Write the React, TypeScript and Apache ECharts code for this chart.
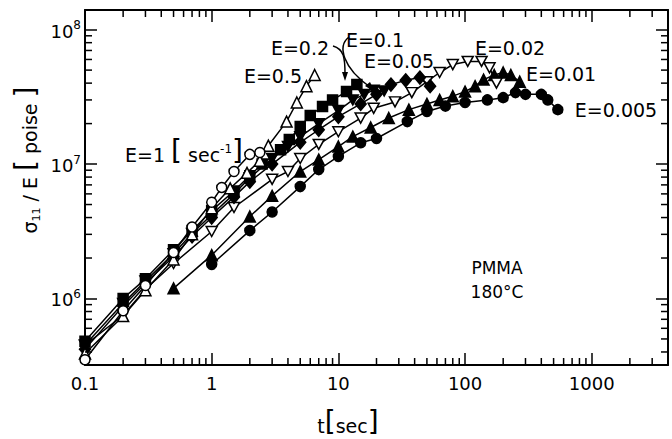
import React, { useEffect, useRef } from "react";
import * as echarts from "echarts";

// ---- axis ranges ----
const X_MIN = 0.1;
const X_MAX = 4000;
const Y_MIN = 3.2e5;
const Y_MAX = 1.4e8;

// ---- data (t [sec], sigma11/E [poise]) ----
const tE1 = [0.1, 0.2, 0.3, 0.5, 0.7, 1, 1.2, 1.5, 2, 2.4];
const vE1 = [3.5e5, 8.1e5, 1.25e6, 2.2e6, 3.4e6, 5.2e6, 6.7e6, 8.8e6, 1.18e7, 1.22e7];

const tE05 = [0.1, 0.2, 0.3, 0.5, 0.7, 1, 1.4, 1.9, 2.4, 2.8, 3.9, 4.7, 5.6, 6.5];
const vE05 = [3.9e5, 7.4e5, 1.15e6, 1.95e6, 3.0e6, 4.7e6, 6.6e6, 8.6e6, 1.06e7, 1.37e7, 2.07e7, 2.87e7, 3.8e7, 4.6e7];

const tE02 = [0.1, 0.2, 0.3, 0.5, 0.7, 1, 1.5, 2, 2.5, 3.5, 4.1, 5, 6, 7.5, 9, 11.6, 14];
const vE02 = [4.8e5, 1.0e6, 1.4e6, 2.3e6, 3.2e6, 4.5e6, 6.3e6, 8.2e6, 1.0e7, 1.28e7, 1.52e7, 1.9e7, 2.3e7, 2.68e7, 3.0e7, 3.46e7, 3.9e7];

const tE01 = [0.1, 0.2, 0.3, 0.5, 0.7, 1, 1.5, 2, 3, 4, 5, 7, 10, 13, 16, 19, 23];
const vE01 = [4.5e5, 9.2e5, 1.35e6, 2.15e6, 3.05e6, 4.2e6, 6.0e6, 7.9e6, 1.1e7, 1.35e7, 1.6e7, 2.0e7, 2.5e7, 3.0e7, 3.3e7, 3.55e7, 3.5e7];

const tE005 = [0.1, 0.2, 0.3, 0.5, 0.7, 1, 1.5, 2, 3, 5, 7, 10, 15, 20, 26, 34, 44, 53];
const vE005 = [4.2e5, 8.8e5, 1.3e6, 2.05e6, 2.9e6, 4.0e6, 5.7e6, 7.4e6, 1.0e7, 1.45e7, 1.8e7, 2.25e7, 2.8e7, 3.3e7, 3.9e7, 4.2e7, 4.4e7, 3.8e7];

const tE002 = [0.1, 0.2, 0.3, 0.5, 1, 1.5, 3, 4, 5, 7, 10, 15, 19, 28, 38, 50, 63, 80, 105, 135, 156, 177];
const vE002 = [4.5e5, 7.5e5, 1.17e6, 1.82e6, 3.15e6, 4.75e6, 7.7e6, 8.8e6, 1.1e7, 1.4e7, 1.74e7, 2.2e7, 2.6e7, 2.9e7, 3.4e7, 4.1e7, 4.8e7, 5.5e7, 5.8e7, 5.8e7, 5.2e7, 4.0e7];

const tE001 = [0.5, 1, 2, 3, 5, 7, 10, 13, 18, 25, 36, 50, 63, 80, 100, 120, 140, 170, 200, 230, 270];
const vE001 = [1.19e6, 2.1e6, 4.07e6, 5.8e6, 8.8e6, 1.08e7, 1.35e7, 1.6e7, 1.87e7, 2.2e7, 2.54e7, 2.8e7, 3.0e7, 3.2e7, 3.46e7, 3.8e7, 4.25e7, 4.6e7, 4.8e7, 4.6e7, 4.1e7];

const tE0005 = [1, 2, 3, 5, 7, 10, 15, 20, 35, 50, 70, 100, 150, 200, 250, 300, 400, 450, 540];
const vE0005 = [1.79e6, 3.2e6, 4.4e6, 6.8e6, 9.1e6, 1.14e7, 1.44e7, 1.55e7, 2.07e7, 2.46e7, 2.7e7, 2.87e7, 3.0e7, 3.12e7, 3.4e7, 3.3e7, 3.3e7, 3.0e7, 2.54e7];

// ---- tick labels ----
const xTickLabels = ["0.1", "1", "10", "100", "1000"];
const yTickExponents = [6, 7, 8];

function minorTicks(lo: number, hi: number): number[] {
  const out: number[] = [];
  for (let e = Math.floor(Math.log10(lo)); e <= Math.ceil(Math.log10(hi)); e++) {
    for (let k = 2; k <= 9; k++) {
      const v = Number((k * Math.pow(10, e)).toPrecision(3));
      if (v > lo && v < hi) out.push(v);
    }
  }
  return out;
}

function isPow10(v: number): boolean {
  const l = Math.log10(v);
  return Math.abs(l - Math.round(l)) < 1e-6;
}

const FONT = "DejaVu Sans";
const INV_TRI = "path://M0,0L10,0L5,9Z";

export default function App() {
  const ref = useRef<HTMLDivElement>(null);

  useEffect(() => {
    if (!ref.current) return;
    const chart = echarts.init(ref.current, null, { renderer: "svg" });

    const mk = (name: string, t: number[], v: number[], symbol: string, filled: boolean, size: any, z: number) => ({
      type: "line",
      name,
      data: t.map((x, i) => [x, v[i]]),
      symbol,
      symbolSize: size,
      showSymbol: true,
      z,
      lineStyle: { color: "#000", width: 1.5 },
      itemStyle: { color: filled ? "#000" : "#fff", borderColor: "#000", borderWidth: 1.5 },
      emphasis: { disabled: true },
    });

    const tickData: any[] = [];
    minorTicks(X_MIN, X_MAX).forEach((v) => tickData.push([v, Y_MIN, 0]));
    minorTicks(Y_MIN, Y_MAX).forEach((v) => tickData.push([X_MIN, v, 1]));

    const tickSeries = {
      type: "custom",
      silent: true,
      clip: false,
      z: 20,
      data: tickData,
      renderItem: (params: any, api: any) => {
        const v = api.value(0);
        const w = api.value(1);
        const kind = api.value(2);
        const L = 7;
        const st = { stroke: "#000", lineWidth: 1.5 };
        if (kind === 0) {
          const b = api.coord([v, Y_MIN]);
          const t = api.coord([v, Y_MAX]);
          return {
            type: "group",
            children: [
              { type: "line", shape: { x1: b[0], y1: b[1], x2: b[0], y2: b[1] - L }, style: st },
              { type: "line", shape: { x1: t[0], y1: t[1], x2: t[0], y2: t[1] + L }, style: st },
            ],
          };
        }
        const l = api.coord([X_MIN, w]);
        const r = api.coord([X_MAX, w]);
        return {
          type: "group",
          children: [
            { type: "line", shape: { x1: l[0], y1: l[1], x2: l[0] + L, y2: l[1] }, style: st },
            { type: "line", shape: { x1: r[0], y1: r[1], x2: r[0] - L, y2: r[1] }, style: st },
          ],
        };
      },
    };

    const axisLineStyle = { lineStyle: { color: "#000", width: 2 } };
    const majorTick = { show: true, inside: true, length: 12, lineStyle: { color: "#000", width: 1.5 } };

    const rs = (size: number, extra: any = {}) => ({
      fontSize: size,
      fontFamily: FONT,
      color: "#000",
      fill: "#000",
      verticalAlign: "bottom",
      ...extra,
    });

    const txt = (text: string, x: number, y: number, size = 19, extra: any = {}) => ({
      type: "text",
      x,
      y,
      z: 100,
      style: {
        text,
        fill: "#000",
        fontSize: size,
        fontFamily: FONT,
        textAlign: "center",
        textVerticalAlign: "middle",
        ...extra,
      },
    });

    const option: any = {
      animation: false,
      textStyle: { fontFamily: FONT },
      grid: { left: 85, right: 4, top: 10, bottom: 74, containLabel: false },
      xAxis: [
        {
          type: "log",
          logBase: 10,
          min: X_MIN,
          max: X_MAX,
          axisLine: axisLineStyle,
          axisTick: majorTick,
          splitLine: { show: false },
          axisLabel: {
            color: "#000",
            fontSize: 18,
            fontFamily: FONT,
            margin: 9,
            showMaxLabel: false,
            formatter: (v: number) => {
              if (!isPow10(v)) return "";
              const e = Math.round(Math.log10(v));
              return xTickLabels[e + 1] ?? "";
            },
          },
        },
        {
          type: "log",
          logBase: 10,
          position: "top",
          min: X_MIN,
          max: X_MAX,
          axisLine: axisLineStyle,
          axisTick: majorTick,
          axisLabel: { show: false },
          splitLine: { show: false },
        },
      ],
      yAxis: [
        {
          type: "log",
          logBase: 10,
          min: Y_MIN,
          max: Y_MAX,
          axisLine: axisLineStyle,
          axisTick: majorTick,
          splitLine: { show: false },
          axisLabel: {
            color: "#000",
            margin: 4,
            showMinLabel: false,
            showMaxLabel: false,
            formatter: (v: number) => {
              if (!isPow10(v)) return "";
              const e = Math.round(Math.log10(v));
              if (!yTickExponents.includes(e)) return "";
              return `{b|10}{s|${e}}`;
            },
            rich: {
              b: rs(18),
              s: rs(12, { padding: [0, 0, 9, 0] }),
            },
          },
        },
        {
          type: "log",
          logBase: 10,
          position: "right",
          min: Y_MIN,
          max: Y_MAX,
          axisLine: axisLineStyle,
          axisTick: majorTick,
          axisLabel: { show: false },
          splitLine: { show: false },
        },
      ],
      series: [
        mk("E=0.005", tE0005, vE0005, "circle", true, 10, 2),
        mk("E=0.01", tE001, vE001, "triangle", true, 11, 3),
        mk("E=0.02", tE002, vE002, INV_TRI, false, [11, 10], 4),
        mk("E=0.05", tE005, vE005, "diamond", true, [11, 13], 5),
        mk("E=0.1", tE01, vE01, INV_TRI, true, [11, 10], 6),
        mk("E=0.2", tE02, vE02, "rect", true, 10, 7),
        mk("E=0.5", tE05, vE05, "triangle", false, 11, 8),
        mk("E=1", tE1, vE1, "circle", false, 10, 9),
        tickSeries,
      ],
      graphic: [
        txt("E=0.5", 273, 76),
        txt("E=0.2", 300, 48),
        txt("E=0.1", 375, 40),
        txt("E=0.05", 399, 61),
        txt("E=0.02", 510, 48),
        txt("E=0.01", 561, 74),
        txt("E=0.005", 616, 110),
        txt("PMMA", 497, 268, 17),
        txt("180°C", 497, 292, 17),
        txt("{a|E=1 }{b|[}{a| sec}{s|-1}{b|]}", 184, 150, 19, {
          rich: {
            a: rs(19),
            b: rs(28),
            s: rs(12, { padding: [0, 0, 9, 0] }),
          },
        }),
        txt("{a|t}{b|[}{a|sec}{b|]}", 348, 421, 19, {
          rich: {
            a: rs(19),
            b: rs(28),
          },
        }),
        {
          type: "text",
          x: 25,
          y: 160,
          rotation: Math.PI / 2,
          z: 100,
          style: {
            text: "{a|σ}{s|11}{a| / E }{b|[}{a| poise }{b|]}",
            fill: "#000",
            textAlign: "center",
            textVerticalAlign: "middle",
            rich: {
              a: rs(19),
              s: rs(11, { padding: [0, 0, -3, 0] }),
              b: rs(28),
            },
          },
        },
        {
          type: "bezierCurve",
          z: 100,
          shape: { x1: 333, y1: 46, x2: 345, y2: 74, cpx1: 344, cpy1: 49, cpx2: 345, cpy2: 58 },
          style: { stroke: "#000", lineWidth: 1.5, fill: "none" },
        },
        {
          type: "polygon",
          z: 100,
          shape: { points: [[342, 72], [348, 72], [345, 81]] },
          style: { fill: "#000" },
        },
        {
          type: "bezierCurve",
          z: 100,
          shape: { x1: 349, y1: 37, x2: 370, y2: 87, cpx1: 337, cpy1: 46, cpx2: 343, cpy2: 68 },
          style: { stroke: "#000", lineWidth: 1.5, fill: "none" },
        },
        {
          type: "polygon",
          z: 100,
          shape: { points: [[365, 86], [370, 82], [375, 92]] },
          style: { fill: "#000" },
        },
      ],
    };

    chart.setOption(option);
    return () => chart.dispose();
  }, []);

  return (
    <div
      ref={ref}
      style={{ position: "absolute", left: 0, top: 0, width: 672, height: 439, background: "#fff" }}
    />
  );
}
